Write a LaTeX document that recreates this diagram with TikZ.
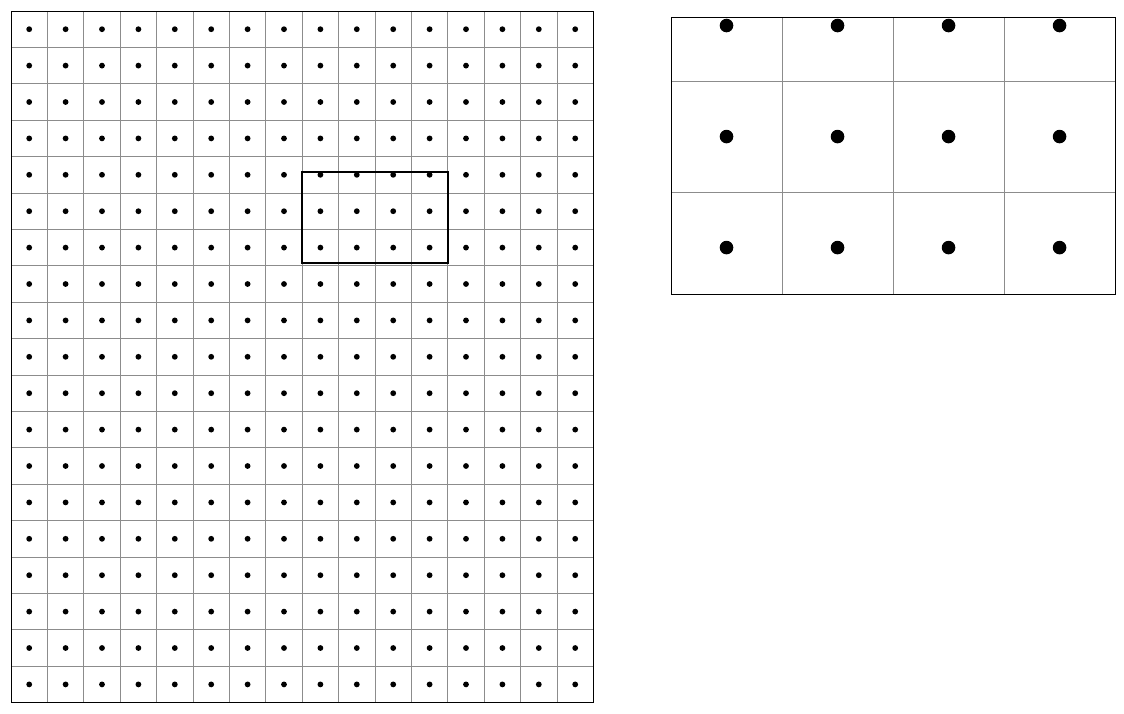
\documentclass[tikz,border=0pt]{standalone}
\begin{document}
\begin{tikzpicture}[x=1pt,y=-1pt,
  gridline/.style={draw=black!45,line width=0.8pt},
  frame/.style={draw=black,line width=0.9pt},
  zoomframe/.style={draw=black,line width=1.9pt},
  smalldot/.style={fill=black},
  bigdot/.style={fill=black}]
\useasboundingbox (0,0) rectangle (1124,713);
\def\c{36.4}
\def\s{3.05}
% left panel grid
\foreach \i in {1,...,15} \draw[gridline] ({11+\i*\c},11) -- ({11+\i*\c},702.6);
\foreach \j in {1,...,18} \draw[gridline] (11,{11+\j*\c}) -- (593.4,{11+\j*\c});
\foreach \i in {0,...,15} {
  \foreach \j in {0,...,18} {
    \fill[smalldot] ({11+(\i+0.5)*\c},{11+(\j+0.5)*\c}) circle[radius=2.9pt];
  }
}
\draw[frame] (11,11) rectangle (593.4,702.6);
\draw[zoomframe] (302.2,172) rectangle (447.8,262.7);
% right panel (magnified view)
\foreach \k in {1,2,3} \draw[gridline] ({671+\k*\c*\s},17) -- ({671+\k*\c*\s},294);
\foreach \k in {5,6} \draw[gridline] (671,{17+(11+\k*\c-172)*\s}) -- (1115,{17+(11+\k*\c-172)*\s});
\foreach \i in {0,...,3} {
  \foreach \j in {4,5,6} {
    \fill[bigdot] ({671+(\i+0.5)*\c*\s},{17+(11+(\j+0.5)*\c-172)*\s}) circle[radius=6.8pt];
  }
}
\draw[frame] (671,17) rectangle (1115,294);
\end{tikzpicture}
\end{document}
